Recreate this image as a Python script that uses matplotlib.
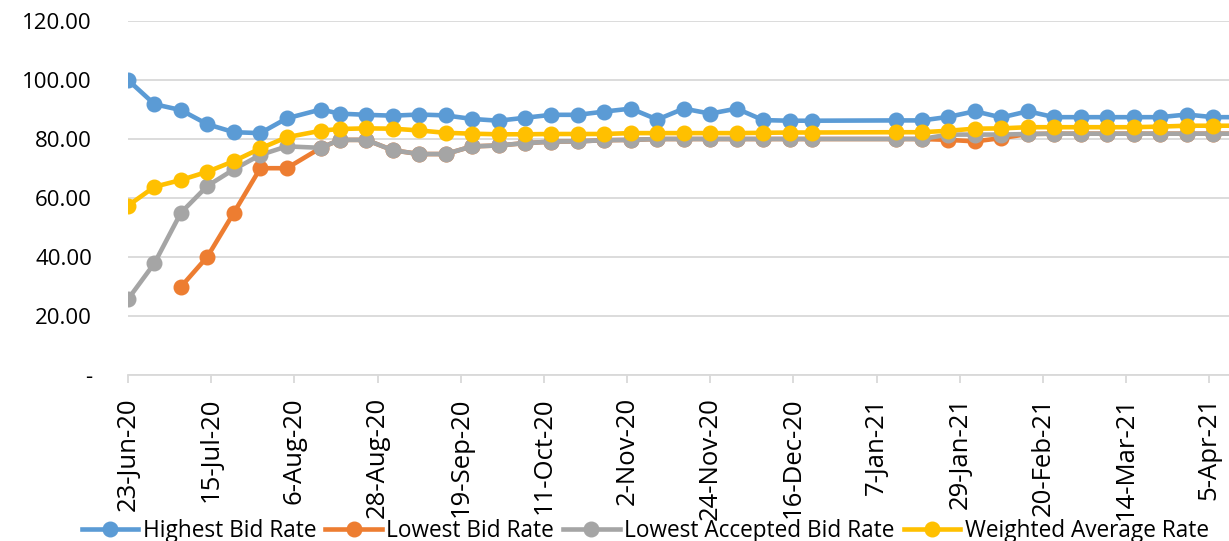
import pandas as pd
import matplotlib
matplotlib.use('Agg')
import matplotlib.pyplot as plt

plt.rcParams['font.family'] = ['Open Sans', 'DejaVu Sans']

# auction dates (weekly, with a holiday gap over December/January)
dates = ['2020-06-23', '2020-06-30', '2020-07-07', '2020-07-14', '2020-07-21',
         '2020-07-28', '2020-08-04', '2020-08-13', '2020-08-18', '2020-08-25',
         '2020-09-01', '2020-09-08', '2020-09-15', '2020-09-22', '2020-09-29',
         '2020-10-06', '2020-10-13', '2020-10-20', '2020-10-27', '2020-11-03',
         '2020-11-10', '2020-11-17', '2020-11-24', '2020-12-01', '2020-12-08',
         '2020-12-15', '2020-12-21', '2021-01-12', '2021-01-19', '2021-01-26',
         '2021-02-02', '2021-02-09', '2021-02-16', '2021-02-23', '2021-03-02',
         '2021-03-09', '2021-03-16', '2021-03-23', '2021-03-30', '2021-04-06',
         '2021-04-13']

highest_bid = [100.0, 91.8, 89.8, 85.0, 82.3, 82.0, 87.0, 90.0, 88.6, 88.2,
               87.9, 88.3, 88.0, 86.8, 86.2, 87.2, 88.2, 88.2, 89.3, 90.3,
               86.6, 90.3, 88.6, 90.3, 86.4, 86.2, 86.2, 86.3, 86.3, 87.5,
               89.4, 87.3, 89.4, 87.4, 87.4, 87.4, 87.4, 87.4, 88.3, 87.4,
               87.4]

lowest_bid = [None, None, 29.9, 40.1, 55.0, 70.1, 70.1, 77.0, 79.7, 79.7,
              76.2, 74.9, 74.9, 77.5, 77.8, 78.6, 79.1, 79.2, 79.6, 79.7,
              80.0, 80.0, 80.0, 80.0, 80.0, 80.0, 80.0, 80.0, 80.0, 79.7,
              79.2, 80.3, 81.7, 81.8, 81.8, 81.8, 81.8, 81.8, 81.8, 81.8,
              81.8]

lowest_accepted = [25.7, 37.9, 55.0, 64.1, 69.7, 74.6, 77.5, 77.0, 79.7, 79.7,
                   76.2, 74.9, 74.9, 77.5, 77.8, 78.6, 79.1, 79.2, 79.6, 79.7,
                   80.0, 80.0, 80.0, 80.0, 80.0, 80.0, 80.0, 80.0, 80.0, 81.5,
                   81.5, 81.5, 81.7, 81.8, 81.8, 81.8, 81.8, 81.8, 81.8, 81.8,
                   81.8]

weighted_avg = [57.4, 63.8, 66.1, 68.9, 72.5, 76.8, 80.6, 82.8, 83.4, 83.6,
                83.5, 82.9, 82.1, 81.8, 81.6, 81.6, 81.7, 81.7, 81.7, 82.0,
                82.0, 82.0, 82.0, 82.0, 82.1, 82.2, 82.2, 82.3, 82.3, 82.8,
                83.5, 83.6, 84.0, 84.0, 84.0, 84.0, 84.0, 84.2, 84.5, 84.5,
                84.5]

tick_dates = ['2020-06-23', '2020-07-15', '2020-08-06', '2020-08-28', '2020-09-19',
              '2020-10-11', '2020-11-02', '2020-11-24', '2020-12-16', '2021-01-07',
              '2021-01-29', '2021-02-20', '2021-03-14', '2021-04-05']
tick_labels = ['23-Jun-20', '15-Jul-20', '6-Aug-20', '28-Aug-20', '19-Sep-20',
               '11-Oct-20', '2-Nov-20', '24-Nov-20', '16-Dec-20', '7-Jan-21',
               '29-Jan-21', '20-Feb-21', '14-Mar-21', '5-Apr-21']

y_ticks = [0, 20, 40, 60, 80, 100, 120]
y_labels = ['-', '20.00', '40.00', '60.00', '80.00', '100.00', '120.00']

x = pd.to_datetime(dates)

fig = plt.figure(figsize=(12.29, 5.41), dpi=100)
ax = fig.add_axes([128 / 1229, 166 / 541, 1 - 128 / 1229, 354 / 541])

series = [
    ('Highest Bid Rate', highest_bid, '#5B9BD5'),
    ('Lowest Bid Rate', lowest_bid, '#ED7D31'),
    ('Lowest Accepted Bid Rate', lowest_accepted, '#A5A5A5'),
    ('Weighted Average Rate', weighted_avg, '#FFC000'),
]
for name, vals, col in series:
    s = pd.Series(vals, index=x, dtype=float)
    ax.plot(s.index, s.values, color=col, lw=3.3, marker='o', ms=10.5,
            label=name, zorder=3)

ax.set_ylim(0, 120)
ax.set_xlim(pd.Timestamp('2020-06-23'), pd.Timestamp('2021-04-10 05:00'))
ax.set_yticks(y_ticks)
ax.set_yticklabels(y_labels, fontsize=16)
ax.set_xticks(pd.to_datetime(tick_dates))
ax.set_xticklabels(tick_labels, rotation=90, fontsize=18.5)

ax.grid(axis='y', color='#D9D9D9', lw=1.3)
ax.set_axisbelow(True)
for side in ['left', 'right', 'top']:
    ax.spines[side].set_visible(False)
ax.spines['bottom'].set_color('#D9D9D9')
ax.spines['bottom'].set_linewidth(1.3)
ax.tick_params(axis='y', length=0, pad=26)
ax.tick_params(axis='x', length=6, width=1.3, color='#D9D9D9', pad=10)

fig.legend(loc='center', bbox_to_anchor=(0.525, 0.019), ncol=4, frameon=False,
           fontsize=16.3, handlelength=2.5, handletextpad=0.2, columnspacing=0.4,
           borderaxespad=0, borderpad=0)

fig.savefig('out.png', dpi=100)
